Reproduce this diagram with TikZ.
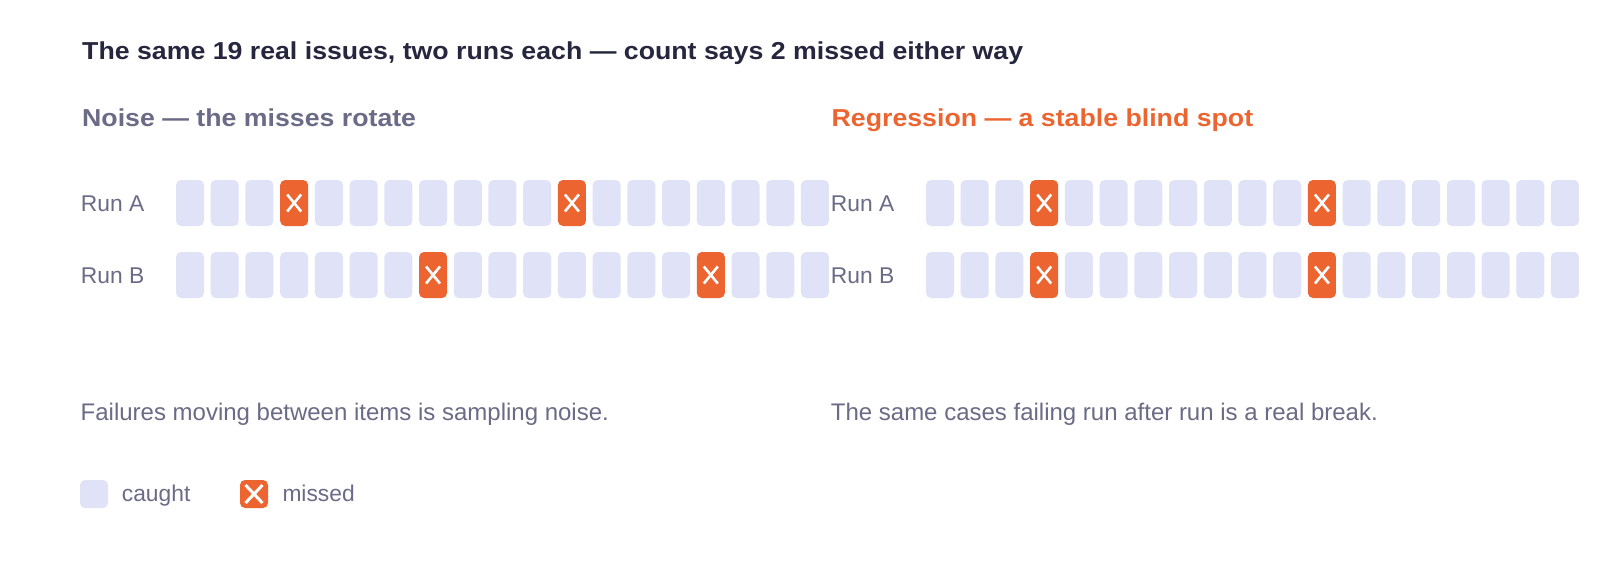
\documentclass[tikz,border=0pt]{standalone}
\usepackage{fontspec}
\setmainfont{Liberation Sans}
\newfontface\headfont{Liberation Sans Bold}[FakeStretch=1.09]
\definecolor{cellc}{HTML}{E0E3F8}
\definecolor{missc}{HTML}{EC6530}
\definecolor{titlec}{HTML}{26263E}
\definecolor{textc}{HTML}{6B6B87}
\tikzset{
  cellbox/.style={rectangle, rounded corners=5pt, minimum width=28pt, minimum height=46pt, inner sep=0pt, draw=none, fill=cellc},
  legbox/.style={rectangle, rounded corners=5pt, minimum width=28pt, minimum height=28pt, inner sep=0pt, draw=none},
  xmark/.style={draw=white, line width=2.6pt},
  titletext/.style={inner sep=0pt, anchor=base west, text=titlec, font=\headfont\fontsize{24.5}{28}\selectfont},
  subtext/.style={inner sep=0pt, anchor=base west, font=\headfont\fontsize{24.5}{28}\selectfont},
  bodytext/.style={inner sep=0pt, anchor=base west, text=textc, font=\fontsize{24}{28}\selectfont},
  smalltext/.style={inner sep=0pt, anchor=base west, text=textc, font=\fontsize{22.8}{27}\selectfont},
}
\newcommand\cellrow[5]{%
  \foreach \i in {0,...,18}{%
    \pgfmathsetmacro\cellcx{#2+\i*34.72}%
    \ifnum\i=#4\relax\def\cellfill{missc}\else\ifnum\i=#5\relax\def\cellfill{missc}\else\def\cellfill{cellc}\fi\fi
    \node[cellbox, fill=\cellfill] (#1\i) at (\cellcx,#3) {};
  }%
  \foreach \j in {#4,#5}{%
    \draw[xmark] ([xshift=-7pt,yshift=8.5pt]#1\j.center) -- ([xshift=7pt,yshift=-8.5pt]#1\j.center);
    \draw[xmark] ([xshift=7pt,yshift=8.5pt]#1\j.center) -- ([xshift=-7pt,yshift=-8.5pt]#1\j.center);
  }%
}
\begin{document}
\begin{tikzpicture}[x=1pt,y=-1pt]
\path[use as bounding box, fill=white] (0,0) rectangle (1600,560);

\node[titletext] (title) at (82,59) {The same 19 real issues, two runs each — count says 2 missed either way};

\node[subtext, text=textc] (noise) at (82,126) {Noise — the misses rotate};
\node[subtext, text=missc] (regr) at (831.5,126) {Regression — a stable blind spot};

\node[smalltext] (lra) at (80.7,211.5) {Run A};
\node[smalltext] (lrb) at (80.7,283.5) {Run B};
\node[smalltext] (rra) at (830.7,211.5) {Run A};
\node[smalltext] (rrb) at (830.7,283.5) {Run B};

\cellrow{LA}{190}{203}{3}{11}
\cellrow{LB}{190}{275}{7}{15}
\cellrow{RA}{940}{203}{3}{11}
\cellrow{RB}{940}{275}{3}{11}

\node[bodytext] (capl) at (80.5,420) {Failures moving between items is sampling noise.};
\node[bodytext] (capr) at (830.7,420) {The same cases failing run after run is a real break.};

\node[legbox, fill=cellc] (legc) at (94,494) {};
\node[smalltext] (legct) at (121.7,501) {caught};
\node[legbox, fill=missc] (legm) at (254,494) {};
\draw[xmark, line width=3pt] ([xshift=-8.5pt,yshift=9pt]legm.center) -- ([xshift=8.5pt,yshift=-9pt]legm.center);
\draw[xmark, line width=3pt] ([xshift=8.5pt,yshift=9pt]legm.center) -- ([xshift=-8.5pt,yshift=-9pt]legm.center);
\node[smalltext] (legmt) at (282.3,501) {missed};
\end{tikzpicture}
\end{document}
